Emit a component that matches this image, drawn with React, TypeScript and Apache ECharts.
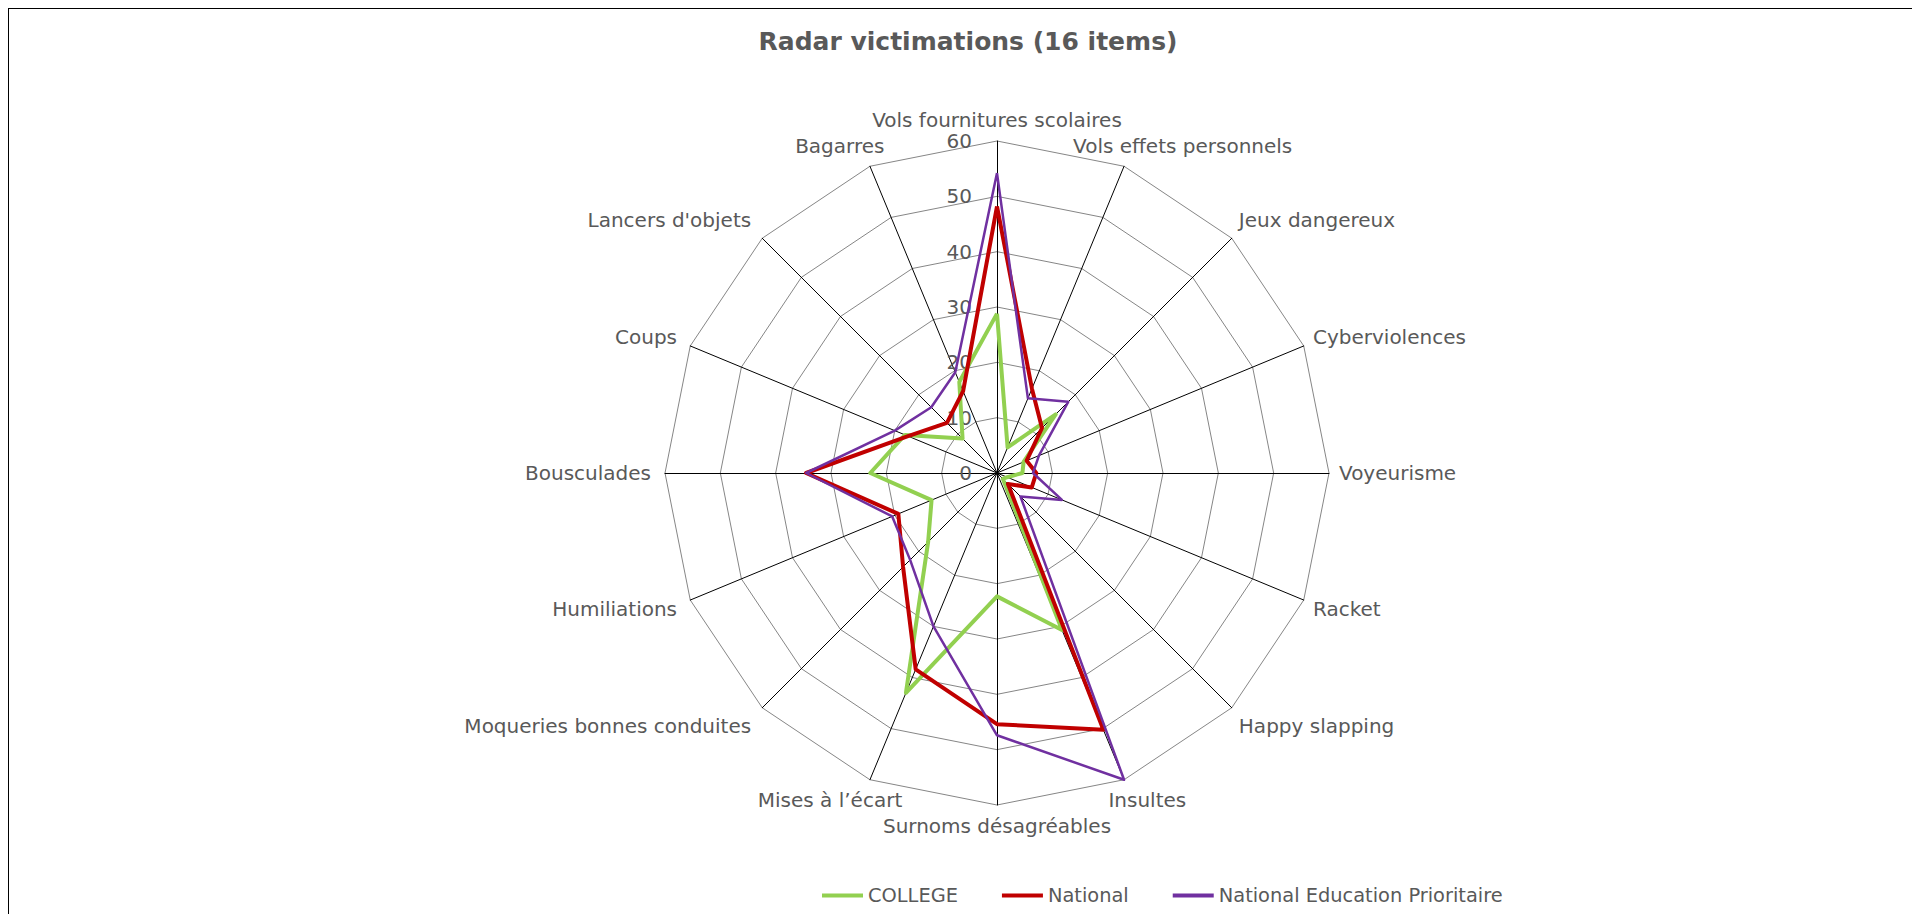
import React, { useEffect, useRef } from 'react';
import * as echarts from 'echarts';

// Categories, clockwise from the top
const categories: string[] = [
  'Vols fournitures scolaires',
  'Vols effets personnels',
  'Jeux dangereux',
  'Cyberviolences',
  'Voyeurisme',
  'Racket',
  'Happy slapping',
  'Insultes',
  'Surnoms désagréables',
  'Mises à l’écart',
  'Moqueries bonnes conduites',
  'Humiliations',
  'Bousculades',
  'Coups',
  "Lancers d'objets",
  'Bagarres',
];

const college: number[] = [28.8, 5, 15, 5.2, 4.6, 2, 1.5, 30.7, 22.3, 43, 17.6, 12.8, 22.9, 18, 8.8, 17.8];
const national: number[] = [48.2, 16.5, 11.5, 5.8, 7.1, 6.8, 2.8, 50.2, 45.4, 38.4, 24, 19.3, 34.5, 17.4, 12.8, 16];
const nationalEP: number[] = [54.2, 14.6, 18.2, 8.2, 6.5, 12.7, 6, 60, 47.4, 30, 22.2, 20.5, 34.5, 20, 16.8, 19.7];

const seriesNames: string[] = ['COLLEGE', 'National', 'National Education Prioritaire'];
const seriesColors: string[] = ['#92D050', '#C00000', '#7030A0'];
const seriesWidths: number[] = [4, 4, 2.5];

const axisMin = 0;
const axisMax = 60;
const axisSplits = 6;

const FONT = '"DejaVu Sans", sans-serif';
const TEXT = '#595959';
const NAME_SIZE = 20;
const NAME_LINE = 22;
const CENTER: [number, number] = [988, 464];
const RADIUS = 332;
const NAME_GAP = 10;

// ECharts lays indicators out counter-clockwise: reorder so that they read clockwise.
const order: number[] = [0, ...Array.from({ length: categories.length - 1 }, (_, i) => categories.length - 1 - i)];

// Office-style placement of category names around the radar
function nameGraphics(): any[] {
  const canvas = document.createElement('canvas');
  const ctx = canvas.getContext('2d')!;
  ctx.font = `${NAME_SIZE}px "DejaVu Sans"`;
  const n = categories.length;
  return categories.map((name, i) => {
    const deg = (360 * i) / n;
    const rad = (deg * Math.PI) / 180;
    const ax = CENTER[0] + (RADIUS + NAME_GAP) * Math.sin(rad);
    const ay = CENTER[1] - (RADIUS + NAME_GAP) * Math.cos(rad);
    const half = deg <= 180 ? deg : 360 - deg;
    const fr = half < 45 ? 0.5 * (1 - half / 45) : half > 135 ? (0.5 * (half - 135)) / 45 : 0;
    const fx = deg <= 180 ? fr : 1 - fr; // share of the width left of the anchor
    const fy = half <= 45 ? 1 : half >= 135 ? 0 : 1 - (half - 45) / 90; // share of the height above
    const w = ctx.measureText(name).width;
    const shift = fx > 0.5 && half <= 135 ? -4 : 0;
    return {
      type: 'text',
      x: ax - fx * w + shift,
      y: ay + (0.5 - fy) * NAME_LINE,
      silent: true,
      style: {
        text: name,
        fill: TEXT,
        font: `${NAME_SIZE}px ${FONT}`,
        align: 'left',
        verticalAlign: 'middle',
      },
    };
  });
}

export default function App() {
  const ref = useRef<HTMLDivElement>(null);

  useEffect(() => {
    if (!ref.current) return;
    const chart = echarts.init(ref.current, null, { renderer: 'svg' });
    const all = [college, national, nationalEP];
    chart.setOption({
      animation: false,
      backgroundColor: '#ffffff',
      title: {
        text: 'Radar victimations (16 items)',
        left: 959,
        top: 20,
        padding: 0,
        textAlign: 'center',
        textStyle: { color: TEXT, fontSize: 25, fontWeight: 'bold', fontFamily: FONT },
      },
      legend: {
        left: 813,
        top: 877,
        padding: 0,
        itemWidth: 41,
        itemHeight: 4,
        itemGap: 44,
        icon: 'rect',
        textStyle: { color: TEXT, fontSize: 19.4, fontFamily: FONT },
        data: seriesNames,
      },
      radar: {
        center: CENTER,
        radius: RADIUS,
        startAngle: 90,
        shape: 'polygon',
        splitNumber: axisSplits,
        axisName: { show: false },
        splitLine: { lineStyle: { color: '#868686', width: 1 } },
        splitArea: { show: false },
        axisLine: { lineStyle: { color: '#000000', width: 1 } },
        axisTick: { show: false },
        axisLabel: { show: false },
        indicator: order.map((i, k) => ({
          name: categories[i],
          min: axisMin,
          max: axisMax,
          ...(k === 0
            ? { axisLabel: { show: true, color: TEXT, fontSize: 20, fontFamily: FONT, margin: 25 } }
            : {}),
        })),
      },
      graphic: nameGraphics(),
      series: [
        {
          type: 'radar',
          symbol: 'none',
          data: all.map((vals, s) => ({
            name: seriesNames[s],
            value: order.map((i) => vals[i]),
            lineStyle: { color: seriesColors[s], width: seriesWidths[s] },
            itemStyle: { color: seriesColors[s] },
          })),
        },
      ],
    });
    return () => chart.dispose();
  }, []);

  return (
    <div
      style={{
        width: 1912,
        height: 906,
        borderTop: '1px solid #000',
        borderLeft: '1px solid #000',
        boxSizing: 'border-box',
        overflow: 'hidden',
      }}
    >
      <div ref={ref} style={{ width: 1911, height: 905 }} />
    </div>
  );
}
